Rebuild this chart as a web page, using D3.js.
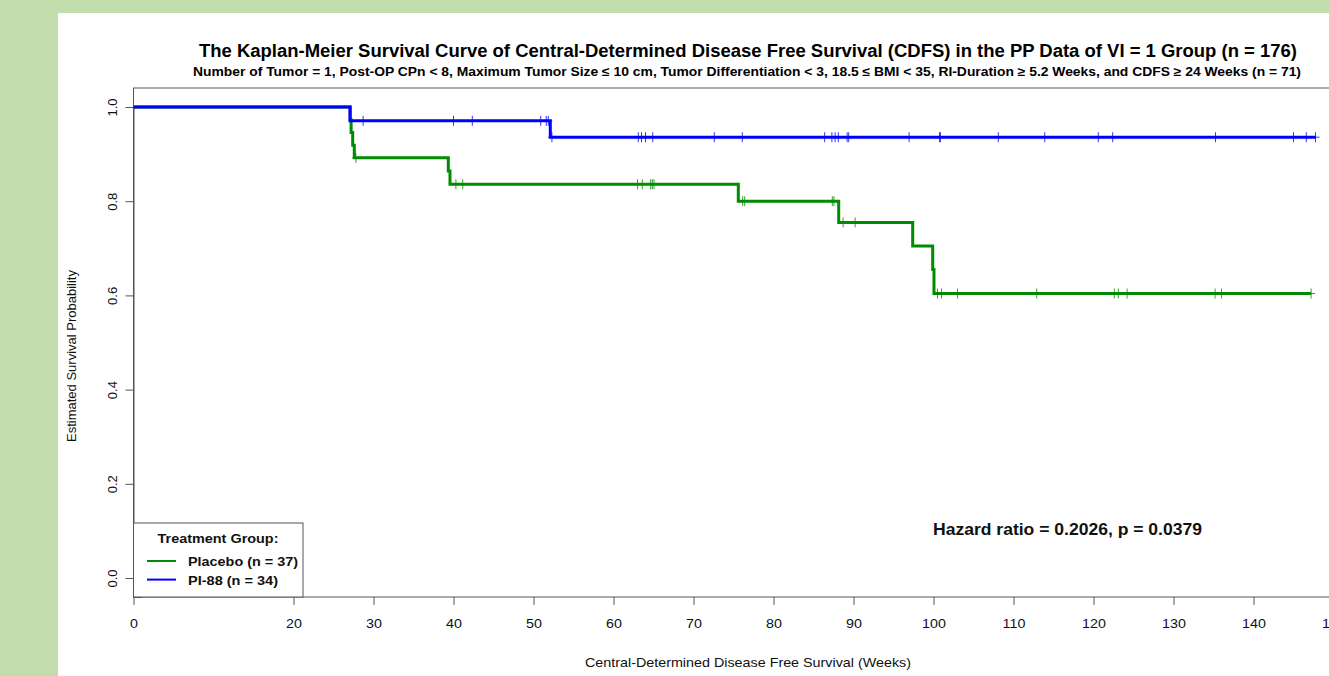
<!DOCTYPE html>
<html>
<head>
<meta charset="utf-8">
<script src="https://cdn.jsdelivr.net/npm/d3@7"></script>
<style>
  html, body { margin: 0; padding: 0; overflow: hidden; background: #c2ddab; }
  svg { display: block; }
</style>
</head>
<body>
<svg id="chart" width="1329" height="676"></svg>
<script>
// ---------- data ----------
const titleText = "The Kaplan-Meier Survival Curve of Central-Determined Disease Free Survival (CDFS) in the PP Data of VI = 1 Group (n = 176)";
const subtitleText = "Number of Tumor = 1, Post-OP CPn < 8, Maximum Tumor Size \u2264 10 cm, Tumor Differentiation < 3, 18.5 \u2264 BMI < 35, RI-Duration \u2265 5.2 Weeks, and CDFS \u2265 24 Weeks (n = 71)";
const xLabel = "Central-Determined Disease Free Survival (Weeks)";
const yLabel = "Estimated Survival Probability";
const legendTitle = "Treatment Group:";
const groupNames = ["Placebo (n = 37)", "PI-88 (n = 34)"];
const hazardText = "Hazard ratio = 0.2026, p = 0.0379";

const xTicks = [0, 20, 30, 40, 50, 60, 70, 80, 90, 100, 110, 120, 130, 140, 150];
const yTicks = [0.0, 0.2, 0.4, 0.6, 0.8, 1.0];

// Placebo (green)
const placeboEventTimes = [27.1, 27.2, 27.4, 27.6, 39.35, 39.56, 75.6, 88.15, 97.4, 99.9, 100.06];
const placeboSurvival   = [0.973, 0.946, 0.919, 0.892, 0.864, 0.836, 0.800, 0.755, 0.705, 0.655, 0.604];
const placeboCensorTimes = [27.8, 40.3, 41.15, 63.0, 63.6, 64.65, 64.85, 65.06, 76.15, 76.4, 87.35, 87.56,
  88.7, 90.2, 100.5, 101.0, 103.0, 112.9, 122.6, 123.1, 124.2, 135.2, 136.0, 147.2];
const placeboEndTime = 147.2;

// PI-88 (blue)
const pi88EventTimes = [27.06, 52.1];
const pi88Survival   = [0.9706, 0.9359];
const pi88CensorTimes = [28.7, 40.0, 42.35, 50.9, 51.6, 51.85, 52.3, 63.1, 63.5, 64.0, 64.9, 72.6, 76.1,
  86.4, 87.3, 87.7, 88.1, 89.2, 89.4, 96.95, 100.75, 100.86, 108.1, 113.9, 120.6, 122.4, 135.25,
  145.0, 146.6, 147.75];
const pi88EndTime = 147.75;

const groupColors = ["#008b00", "#0000ff"];

// ---------- layout ----------
const svg = d3.select("#chart");
svg.append("rect").attr("x", 58).attr("y", 13).attr("width", 1329 - 58).attr("height", 676 - 13).attr("fill", "#ffffff");

const plotLeft = 133.5, plotTop = 88, plotBottom = 597, plotRight = 1364;
const x = d3.scaleLinear().domain([0, 1]).range([133.5, 141.5]); // 8 px per week
const y = d3.scaleLinear().domain([0, 1]).range([578, 107]);

const fontFam = "Liberation Sans, Arial, Helvetica, sans-serif";
const hStretch = 1.1; // reference text is slightly wider than the font's natural width

function stretch(sel, factor) {
  sel.each(function () {
    const w = this.getComputedTextLength();
    d3.select(this).attr("textLength", w * factor).attr("lengthAdjust", "spacingAndGlyphs");
  });
}

// frame
svg.append("rect")
  .attr("x", plotLeft).attr("y", plotTop)
  .attr("width", plotRight - plotLeft).attr("height", plotBottom - plotTop)
  .attr("fill", "none").attr("stroke", "#555").attr("stroke-width", 1);

// x axis
const xAxis = d3.axisBottom(x).tickValues(xTicks).tickFormat(d3.format("d")).tickSizeInner(8).tickSizeOuter(0).tickPadding(14);
const gx = svg.append("g").attr("transform", `translate(0,${plotBottom})`).call(xAxis);
gx.select(".domain").attr("stroke", "#555");
gx.selectAll(".tick line").attr("stroke", "#555");
gx.selectAll("text").attr("font-family", fontFam).attr("font-size", 13).attr("fill", "#111");
stretch(gx.selectAll("text"), hStretch);

// y axis
const yAxis = d3.axisLeft(y).tickValues(yTicks).tickFormat(d3.format(".1f")).tickSizeInner(8).tickSizeOuter(0);
const gy = svg.append("g").attr("transform", `translate(${plotLeft},0)`).call(yAxis);
gy.select(".domain").attr("stroke", "#555");
gy.selectAll(".tick line").attr("stroke", "#555");
gy.selectAll("text")
  .attr("font-family", fontFam).attr("font-size", 13).attr("fill", "#111")
  .attr("x", null).attr("dy", null)
  .attr("text-anchor", "middle")
  .attr("transform", "translate(-22,0) rotate(-90) translate(0,5)");

// titles
svg.append("text").attr("x", 748).attr("y", 57).attr("text-anchor", "middle")
  .attr("font-family", fontFam).attr("font-weight", "bold").attr("font-size", 18).attr("fill", "#000")
  .attr("textLength", 1098).attr("lengthAdjust", "spacingAndGlyphs")
  .text(titleText);
svg.append("text").attr("x", 747).attr("y", 76).attr("text-anchor", "middle")
  .attr("font-family", fontFam).attr("font-weight", "bold").attr("font-size", 12.5).attr("fill", "#000")
  .attr("textLength", 1108).attr("lengthAdjust", "spacingAndGlyphs")
  .text(subtitleText);

// axis labels
svg.append("text").attr("x", 748).attr("y", 667).attr("text-anchor", "middle")
  .attr("font-family", fontFam).attr("font-size", 13).attr("fill", "#111")
  .attr("textLength", 326).attr("lengthAdjust", "spacingAndGlyphs").text(xLabel);
svg.append("text").attr("transform", "translate(76,356) rotate(-90)").attr("text-anchor", "middle")
  .attr("font-family", fontFam).attr("font-size", 13).attr("fill", "#111").text(yLabel);

// ---------- curves ----------
const series = [
  { times: placeboEventTimes, surv: placeboSurvival, censor: placeboCensorTimes, end: placeboEndTime, color: groupColors[0] },
  { times: pi88EventTimes, surv: pi88Survival, censor: pi88CensorTimes, end: pi88EndTime, color: groupColors[1] }
];

const line = d3.line().x(d => x(d[0])).y(d => y(d[1])).curve(d3.curveStepAfter);

function survAt(s, t) {
  let v = 1;
  s.times.forEach((et, i) => { if (et <= t) v = s.surv[i]; });
  return v;
}

series.forEach(s => {
  const pts = [[0, 1]];
  s.times.forEach((t, i) => pts.push([t, s.surv[i]]));
  pts.push([s.end, s.surv[s.surv.length - 1]]);
  svg.append("path").attr("d", line(pts)).attr("fill", "none")
    .attr("stroke", s.color).attr("stroke-width", 3).attr("stroke-linejoin", "miter");
});

series.forEach(s => {
  const g = svg.append("g");
  s.censor.forEach(t => {
    const cx = x(t), cy = y(survAt(s, t));
    g.append("line").attr("x1", cx).attr("x2", cx).attr("y1", cy - 5).attr("y2", cy + 5)
      .attr("stroke", s.color).attr("stroke-width", 1).attr("opacity", 0.8);
    g.append("line").attr("x1", cx - 4).attr("x2", cx + 4).attr("y1", cy).attr("y2", cy)
      .attr("stroke", s.color).attr("stroke-width", 1).attr("opacity", 0.8);
  });
});

// ---------- legend ----------
const lg = svg.append("g");
lg.append("rect").attr("x", plotLeft).attr("y", 523).attr("width", 303 - plotLeft).attr("height", plotBottom - 523)
  .attr("fill", "#fff").attr("stroke", "#555").attr("stroke-width", 1);
lg.append("text").attr("x", 218).attr("y", 543).attr("text-anchor", "middle")
  .attr("font-family", fontFam).attr("font-weight", "bold").attr("font-size", 13).attr("fill", "#111")
  .attr("textLength", 121).attr("lengthAdjust", "spacingAndGlyphs").text(legendTitle);
const legendWidths = [110, 90];
groupNames.forEach((name, i) => {
  const ly = 561 + i * 18.6;
  lg.append("line").attr("x1", 147).attr("x2", 176).attr("y1", ly).attr("y2", ly)
    .attr("stroke", groupColors[i]).attr("stroke-width", 2);
  lg.append("text").attr("x", 188).attr("y", ly + 5)
    .attr("font-family", fontFam).attr("font-weight", "bold").attr("font-size", 13).attr("fill", "#111")
    .attr("textLength", legendWidths[i]).attr("lengthAdjust", "spacingAndGlyphs").text(name);
});

// hazard ratio annotation
svg.append("text").attr("x", 933).attr("y", 535)
  .attr("font-family", fontFam).attr("font-weight", "bold").attr("font-size", 16).attr("fill", "#111")
  .attr("textLength", 269).attr("lengthAdjust", "spacingAndGlyphs").text(hazardText);
</script>
</body>
</html>
